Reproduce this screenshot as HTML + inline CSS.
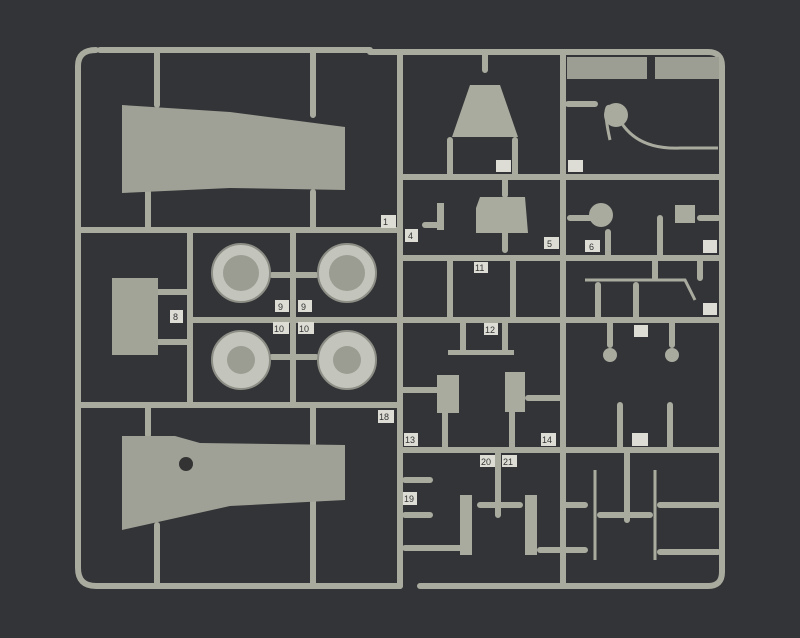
<!DOCTYPE html>
<html><head><style>
html,body{margin:0;padding:0;background:#323336;}
svg{display:block}
text{font-family:"Liberation Sans",sans-serif;font-size:9px;fill:#333;}
</style></head><body>
<svg width="800" height="638" viewBox="0 0 800 638">
<rect width="800" height="638" fill="#333437"/>
<g stroke="#a9ab9f" stroke-width="6" fill="none" stroke-linecap="round">
<!-- outer frame -->
<path d="M100 50 L370 50 M370 52 L708 52 Q722 52 722 66 L722 572 Q722 586 708 586 L420 586 M400 586 L96 586 Q78 586 78 568 L78 66 Q78 50 96 50"/>
<!-- main internal -->
<path d="M400 52 L400 586 M563 52 L563 586"/>
<path d="M78 230 L400 230 M78 405 L400 405 M190 230 L190 405 M293 230 L293 405 M190 320 L720 320"/>
<path d="M400 177 L722 177 M400 258 L722 258 M400 450 L722 450"/>
<!-- gates for wing top -->
<path d="M157 52 L157 105 M313 52 L313 115 M148 192 L148 228 M313 192 L313 228"/>
<path d="M148 405 L148 435 M313 405 L313 445 M157 525 L157 586 M313 500 L313 586"/>
<!-- panel gates -->
<path d="M158 292 L188 292 M158 342 L188 342"/>
<!-- wheel gates -->
<path d="M272 275 L316 275 M272 357 L316 357"/>
<!-- right side bits -->
<path d="M485 55 L485 70 M450 140 L450 175 M515 140 L515 175 M505 177 L505 195 M505 232 L505 250 M425 225 L440 225"/>
<path d="M450 258 L450 318 M513 258 L513 318 M463 320 L463 352 M505 320 L505 352"/>
<path d="M568 104 L595 104 M570 218 L592 218 M660 218 L660 256 M700 218 L718 218 M608 232 L608 256"/>
<path d="M655 258 L655 278 M700 258 L700 278 M598 285 L598 318 M636 285 L636 318"/>
<path d="M610 320 L610 345 M672 320 L672 345 M620 405 L620 448 M670 405 L670 448"/>
<path d="M402 390 L440 390 M528 398 L560 398 M445 412 L445 448 M512 412 L512 448"/>
<path d="M498 450 L498 515 M480 505 L520 505 M405 480 L430 480 M405 515 L430 515 M405 548 L460 548 M540 550 L560 550 M566 505 L585 505 M566 550 L585 550 M600 515 L650 515 M627 450 L627 520 M660 505 L718 505 M660 552 L718 552"/>
</g>
<g stroke="#a9ab9f" stroke-width="3" fill="none">
<path d="M595 470 L595 560 M655 470 L655 560 M610 140 Q600 95 615 110 Q630 150 680 148 L718 148 M585 280 L685 280 L695 300"/>
</g>
<!-- top parts right -->
<rect x="567" y="57" width="80" height="22" fill="#9c9e93"/>
<rect x="655" y="57" width="64" height="22" fill="#9c9e93"/>
<!-- wing top -->
<path d="M122 105 L230 112 L345 127 L345 190 L230 188 L122 193 Z" fill="#9fa196"/>
<!-- wing bottom -->
<path d="M122 436 L175 436 L200 443 L345 445 L345 500 L230 506 L122 530 Z" fill="#9fa196"/>
<circle cx="186" cy="464" r="7" fill="#333"/>
<!-- panel -->
<rect x="112" y="278" width="46" height="77" fill="#a2a498"/>
<!-- wheels -->
<g fill="#c3c4bb" stroke="#8d8f86" stroke-width="2">
<circle cx="241" cy="273" r="29"/><circle cx="347" cy="273" r="29"/>
<circle cx="241" cy="360" r="29"/><circle cx="347" cy="360" r="29"/>
</g>
<g fill="#9b9d93"><circle cx="241" cy="273" r="18"/><circle cx="347" cy="273" r="18"/><circle cx="241" cy="360" r="14"/><circle cx="347" cy="360" r="14"/></g>
<!-- small parts -->
<g fill="#a9ab9f">
<path d="M470 85 L500 85 L518 137 L452 137 Z"/>
<path d="M480 197 L525 197 L528 233 L476 233 L476 208 Z"/>
<circle cx="601" cy="215" r="12"/><circle cx="616" cy="115" r="12"/>
<rect x="675" y="205" width="20" height="18"/>
<rect x="437" y="375" width="22" height="38"/><rect x="505" y="372" width="20" height="40"/>
<rect x="460" y="495" width="12" height="60"/><rect x="525" y="495" width="12" height="60"/>
<rect x="448" y="350" width="66" height="5"/>
<circle cx="610" cy="355" r="7"/><circle cx="672" cy="355" r="7"/>
<path d="M437 203 L444 203 L444 230 L437 230Z"/>
</g>
<!-- labels -->
<g fill="#ddddd6">
<rect x="381" y="215" width="15" height="13"/><rect x="405" y="229" width="13" height="13"/>
<rect x="170" y="310" width="13" height="13"/><rect x="275" y="300" width="14" height="12"/><rect x="298" y="300" width="14" height="12"/>
<rect x="273" y="322" width="16" height="12"/><rect x="298" y="322" width="16" height="12"/>
<rect x="378" y="410" width="16" height="13"/><rect x="404" y="433" width="14" height="13"/>
<rect x="541" y="433" width="15" height="13"/><rect x="480" y="455" width="15" height="12"/><rect x="502" y="455" width="15" height="12"/>
<rect x="403" y="492" width="14" height="13"/><rect x="496" y="160" width="15" height="12"/><rect x="568" y="160" width="15" height="12"/>
<rect x="544" y="237" width="15" height="12"/><rect x="585" y="240" width="15" height="12"/><rect x="474" y="262" width="14" height="11"/>
<rect x="484" y="323" width="14" height="12"/><rect x="634" y="325" width="14" height="12"/><rect x="703" y="240" width="14" height="13"/><rect x="703" y="303" width="14" height="12"/><rect x="632" y="433" width="16" height="13"/>
</g>
<text x="383" y="225">1</text><text x="408" y="239">4</text><text x="173" y="320">8</text>
<text x="278" y="310">9</text><text x="301" y="310">9</text><text x="274" y="332">10</text><text x="299" y="332">10</text>
<text x="379" y="420">18</text><text x="405" y="443">13</text><text x="542" y="443">14</text>
<text x="481" y="465">20</text><text x="503" y="465">21</text><text x="404" y="502">19</text>
<text x="547" y="247">5</text><text x="589" y="250">6</text><text x="475" y="271">11</text><text x="485" y="333">12</text>
</svg>
</body></html>
